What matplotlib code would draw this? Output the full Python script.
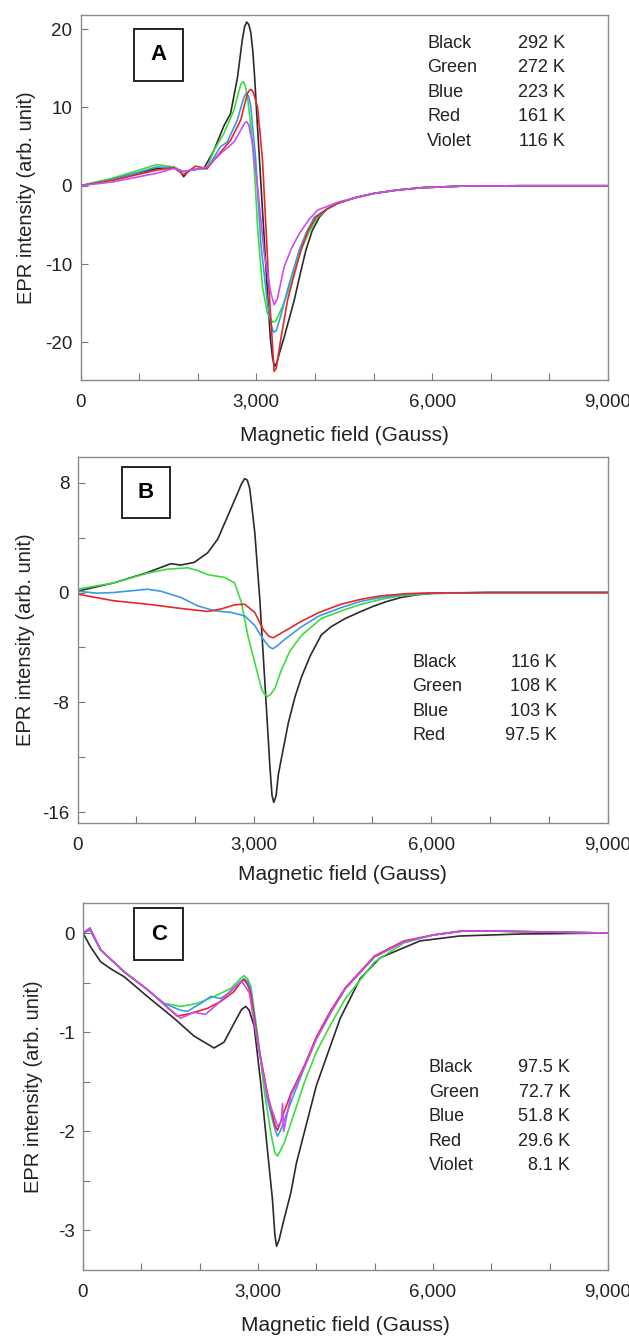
import matplotlib.pyplot as plt
from matplotlib.patches import Rectangle

plt.rcParams['font.family'] = ['Liberation Sans', 'DejaVu Sans']

# ---------- panel A ----------
a_x = {
    'Black': [0, 560, 1300, 1590, 1700, 1760, 1820, 1875, 2105, 2275, 2450, 2560, 2680, 2760, 2800, 2835,
              2870, 2905, 2940, 2970, 3020, 3105, 3190, 3240, 3275, 3310, 3350, 3400, 3476, 3647, 3750,
              3847, 3950, 4076, 4200, 4391, 4700, 5014, 5400, 5820, 6500, 7500, 9000],
    'Green': [0, 560, 1300, 1590, 1760, 1960, 2150, 2276, 2448, 2620, 2705, 2740, 2774, 2810, 2848,
              2900, 2934, 2980, 3020, 3105, 3190, 3276, 3330, 3447, 3590, 3762, 3900, 4048, 4200, 4391,
              4700, 5014, 5400, 5820, 6500, 7500, 9000],
    'Blue': [0, 560, 1300, 1590, 1760, 1960, 2160, 2390, 2505, 2676, 2760, 2800, 2831, 2870, 2905,
             2990, 3077, 3190, 3250, 3290, 3340, 3420, 3561, 3733, 3850, 3990, 4200, 4391, 4700, 5014,
             5400, 5820, 6500, 7500, 9000],
    'Red': [0, 560, 1300, 1590, 1760, 1960, 2160, 2390, 2560, 2734, 2848, 2885, 2917, 2955, 3020,
            3060, 3105, 3163, 3220, 3277, 3304, 3340, 3419, 3533, 3650, 3762, 3880, 4019, 4200, 4391,
            4700, 5014, 5400, 5820, 6500, 7500, 9000],
    'Violet': [0, 560, 1300, 1590, 1760, 1960, 2160, 2390, 2620, 2734, 2800, 2831, 2870, 2934, 2980,
               3020, 3134, 3248, 3304, 3360, 3476, 3600, 3733, 3900, 4048, 4391, 4700, 5014, 5400, 5820,
               6500, 7500, 9000],
}
a_y = {
    'Black': [0, 0.9, 2.2, 2.4, 1.9, 1.15, 1.7, 2.0, 2.2, 4.5, 7.7, 9.2, 13.9, 18.6, 20.3, 20.9,
              20.6, 19.6, 17.2, 14.0, 7.5, -3.1, -13.7, -19.5, -21.9, -23.1, -22.6, -21.2, -19.3, -14.6, -11.2,
              -8.2, -5.8, -4.0, -3.0, -2.25, -1.5, -0.97, -0.55, -0.25, -0.05, 0, 0],
    'Green': [0, 1.0, 2.7, 2.4, 1.8, 2.1, 2.2, 4.5, 6.7, 9.7, 12.2, 13.0, 13.3, 12.8, 11.4,
              8.0, 5.4, 0.5, -5.2, -12.9, -16.3, -17.4, -17.3, -15.4, -12.5, -8.2, -5.9, -4.0, -3.0, -2.2,
              -1.5, -0.97, -0.55, -0.25, -0.05, 0, 0],
    'Blue': [0, 0.8, 2.4, 2.3, 1.8, 2.1, 2.2, 5.0, 5.6, 8.4, 10.6, 11.5, 11.8, 11.4, 10.1,
             3.3, -7.4, -15.0, -17.6, -18.7, -18.5, -16.5, -12.5, -8.2, -6.0, -4.0, -3.0, -2.2, -1.5, -0.97,
             -0.55, -0.25, -0.05, 0, 0],
    'Red': [0, 0.7, 2.0, 2.3, 1.4, 2.5, 2.2, 4.3, 5.8, 8.4, 11.8, 12.2, 12.3, 11.8, 10.0,
            7.0, 3.3, -5.2, -13.7, -20.5, -23.7, -23.3, -19.5, -14.6, -11.2, -8.2, -5.8, -4.0, -3.0, -2.2,
            -1.5, -0.97, -0.55, -0.25, -0.05, 0, 0],
    'Violet': [0, 0.5, 1.6, 2.2, 1.8, 2.1, 2.4, 4.1, 5.6, 7.1, 8.0, 8.2, 7.8, 5.4, 2.5,
               -0.1, -8.6, -13.7, -15.2, -14.4, -10.3, -8.0, -6.1, -4.3, -3.1, -2.1, -1.5, -0.97, -0.55, -0.25,
               -0.05, 0, 0],
}
a_temps = ['292 K', '272 K', '223 K', '161 K', '116 K']

# ---------- panel B ----------
b_x = {
    'Black': [0, 613, 1183, 1582, 1753, 1981, 2209, 2380, 2551, 2722, 2780, 2836, 2880, 2921, 2960,
              3007, 3093, 3178, 3263, 3300, 3330, 3370, 3406, 3450, 3577, 3690, 3805, 3950, 4135, 4300,
              4540, 4800, 5020, 5250, 5490, 5750, 6000, 7000, 9000],
    'Green': [0, 613, 1183, 1525, 1867, 2038, 2209, 2494, 2665, 2779, 2893, 3007, 3121, 3160, 3220,
              3280, 3349, 3463, 3600, 3700, 3805, 4135, 4500, 4813, 5200, 5490, 6000, 7000, 9000],
    'Blue': [0, 328, 613, 1183, 1411, 1753, 2038, 2323, 2608, 2836, 3007, 3150, 3250, 3310, 3370,
             3520, 3797, 4100, 4474, 4800, 5152, 5600, 6000, 7000, 9000],
    'Red': [0, 613, 1183, 1753, 2209, 2437, 2665, 2836, 3007, 3150, 3250, 3320, 3400, 3520, 3797,
            4100, 4474, 4800, 5152, 5600, 6000, 7000, 9000],
}
b_y = {
    'Black': [0.1, 0.7, 1.45, 2.1, 2.0, 2.2, 2.9, 3.9, 5.6, 7.3, 7.9, 8.3, 8.2, 7.6, 6.2,
              4.4, -0.5, -6.5, -12.6, -14.8, -15.3, -14.8, -13.3, -12.3, -9.5, -7.6, -6.1, -4.6, -3.1, -2.5,
              -1.9, -1.4, -1.0, -0.65, -0.36, -0.17, -0.07, 0, 0],
    'Green': [0.24, 0.7, 1.4, 1.7, 1.8, 1.6, 1.3, 1.1, 0.7, -0.7, -3.2, -5.1, -7.0, -7.35, -7.6,
              -7.4, -7.0, -5.6, -4.3, -3.7, -3.1, -1.9, -1.3, -0.85, -0.45, -0.24, -0.05, 0, 0],
    'Blue': [0.1, -0.05, 0, 0.24, 0.1, -0.36, -0.97, -1.33, -1.45, -1.7, -2.4, -3.4, -3.95, -4.1, -3.95,
             -3.4, -2.5, -1.7, -1.1, -0.65, -0.36, -0.12, -0.05, 0, 0],
    'Red': [-0.12, -0.6, -0.85, -1.16, -1.38, -1.2, -0.9, -0.85, -1.45, -2.7, -3.2, -3.3, -3.1, -2.8, -2.1,
            -1.45, -0.85, -0.5, -0.24, -0.08, -0.03, 0, 0],
}
b_temps = ['116 K', '108 K', '103 K', '97.5 K']

# ---------- panel C ----------
c_x = {
    'Black': [0, 130, 302, 474, 703, 1103, 1561, 1904, 2247, 2419, 2590, 2720, 2790, 2850, 2934,
              3048, 3162, 3248, 3290, 3318, 3360, 3420, 3563, 3659, 4000, 4410, 4751, 5092, 5775, 6457,
              7500, 9000],
    'Green': [0, 120, 302, 703, 1103, 1389, 1675, 1961, 2247, 2533, 2700, 2762, 2820, 2877, 2991,
              3105, 3220, 3290, 3334, 3380, 3449, 3620, 3800, 4000, 4250, 4500, 5000, 5500, 6000, 6500,
              7000, 8000, 9000],
    'Blue': [0, 120, 302, 703, 1103, 1389, 1675, 1790, 2018, 2190, 2361, 2533, 2700, 2762, 2820,
             2877, 2991, 3162, 3290, 3334, 3380, 3449, 3620, 3800, 4000, 4250, 4500, 5000, 5500, 6000,
             6500, 7000, 8000, 9000],
    'Red': [0, 120, 302, 703, 1103, 1389, 1618, 1847, 2133, 2361, 2590, 2700, 2762, 2820, 2877,
            2991, 3162, 3290, 3334, 3380, 3420, 3563, 3800, 4000, 4250, 4500, 5000, 5500, 6000, 6500,
            7000, 8000, 9000],
    'Violet': [0, 120, 302, 703, 1103, 1389, 1675, 1900, 2100, 2300, 2500, 2650, 2705, 2760, 2850,
               2991, 3162, 3334, 3400, 3420, 3440, 3563, 3800, 4000, 4250, 4500, 5000, 5500, 6000, 6500,
               7000, 8000, 9000],
}
c_y = {
    'Black': [0, -0.14, -0.29, -0.36, -0.44, -0.64, -0.86, -1.04, -1.16, -1.10, -0.91, -0.77, -0.74, -0.78, -0.94,
              -1.52, -2.19, -2.69, -3.05, -3.16, -3.1, -2.95, -2.62, -2.32, -1.54, -0.86, -0.46, -0.25, -0.08, -0.03,
              -0.01, 0],
    'Green': [0, 0.03, -0.17, -0.39, -0.57, -0.71, -0.74, -0.71, -0.64, -0.56, -0.46, -0.43, -0.46, -0.54, -1.01,
              -1.58, -2.02, -2.22, -2.25, -2.2, -2.12, -1.82, -1.5, -1.2, -0.92, -0.66, -0.29, -0.1, -0.02, 0.02,
              0.02, 0.01, 0],
    'Blue': [0, 0.03, -0.17, -0.39, -0.57, -0.71, -0.78, -0.79, -0.71, -0.64, -0.66, -0.59, -0.49, -0.46, -0.49,
             -0.57, -1.08, -1.68, -1.98, -2.05, -2.0, -1.89, -1.62, -1.35, -1.07, -0.8, -0.56, -0.24, -0.09, -0.02,
             0.02, 0.02, 0.01, 0],
    'Red': [0, 0.05, -0.17, -0.39, -0.57, -0.72, -0.84, -0.81, -0.76, -0.69, -0.59, -0.5, -0.47, -0.52, -0.61,
            -1.08, -1.62, -1.94, -1.99, -1.92, -1.85, -1.62, -1.33, -1.05, -0.78, -0.55, -0.23, -0.08, -0.02, 0.02,
            0.02, 0.01, 0],
    'Violet': [0, 0.05, -0.17, -0.39, -0.57, -0.72, -0.86, -0.8, -0.82, -0.72, -0.6, -0.52, -0.49, -0.52, -0.6,
               -1.1, -1.65, -1.95, -1.9, -1.72, -2.0, -1.64, -1.35, -1.07, -0.8, -0.56, -0.24, -0.09, -0.02, 0.02,
               0.02, 0.01, 0],
}
c_temps = ['97.5 K', '72.7 K', '51.8 K', '29.6 K', '8.1 K']

colors = {'Black': '#2b2b2b', 'Green': '#3ddc3d', 'Blue': '#3a9ae6',
          'Red': '#e5262b', 'Violet': '#c84ff0'}

panels = [
    # x data, y data, letter, temps, axes px box, ylim, yticks, labelled yticks, letter box, legend, label coords
    (a_x, a_y, 'A', a_temps, [80.5, 15, 608, 380], (-24.8, 21.8), [-20, -10, 0, 10, 20], [-20, -10, 0, 10, 20],
     (0.102, 0.82, 0.195, 0.962), (0.657, 0.918, 0.922), (-0.151, -0.103)),
    (b_x, b_y, 'B', b_temps, [77.5, 456.7, 608, 823], (-16.8, 9.9), [-16, -12, -8, -4, 0, 4, 8], [-16, -8, 0, 8],
     (0.083, 0.832, 0.175, 0.971), (0.631, 0.904, 0.439), (-0.14, -0.098)),
    (c_x, c_y, 'C', c_temps, [83, 903.3, 608, 1270], (-3.4, 0.3), [-3, -2.5, -2, -1.5, -1, -0.5, 0], [-3, -2, -1, 0],
     (0.098, 0.845, 0.191, 0.986), (0.659, 0.928, 0.552), (-0.152, -0.094)),
]

W, H = 629, 1338
fig = plt.figure(figsize=(W / 100, H / 100), dpi=100)
txt = '#222222'

for xs, ys, letter, temps, px, ylim, yt, ylab, box, lg, lc in panels:
    l, t, r, b = px
    ax = fig.add_axes([l / W, 1 - b / H, (r - l) / W, (b - t) / H])
    for name in xs:
        ax.plot(xs[name], ys[name], color=colors[name], lw=1.2)
    ax.set_xlim(0, 9000)
    ax.set_ylim(*ylim)
    ax.set_xticks(range(0, 9001, 1000))
    ax.set_xticklabels(['{:,}'.format(v) if v % 3000 == 0 else '' for v in range(0, 9001, 1000)])
    ax.set_yticks(yt)
    ax.set_yticklabels([('{:g}'.format(v) if v in ylab else '') for v in yt])
    ax.tick_params(direction='in', length=5, width=0.8, color='#777777', labelsize=13.5,
                   labelcolor=txt)
    ax.tick_params(axis='x', pad=10)
    ax.tick_params(axis='y', pad=6)
    for s in ax.spines.values():
        s.set_color('#8a8a8a')
        s.set_linewidth(1.0)
    ax.set_xlabel('Magnetic field (Gauss)', fontsize=15, color=txt)
    ax.set_ylabel('EPR intensity (arb. unit)', fontsize=14.5, color=txt)
    ax.xaxis.set_label_coords(0.5, lc[0])
    ax.yaxis.set_label_coords(lc[1], 0.5)
    ax.xaxis.label.set_va('center')
    ax.yaxis.label.set_va('center')

    x0, y0, x1, y1 = box
    ax.add_patch(Rectangle((x0, y0), x1 - x0, y1 - y0, transform=ax.transAxes,
                           fill=False, edgecolor=txt, lw=1.4, zorder=5))
    ax.text((x0 + x1) / 2, (y0 + y1) / 2, letter, transform=ax.transAxes, ha='center', va='center',
            fontsize=16, fontweight='bold', color='black')

    lx, rx, ly = lg
    for i, name in enumerate(list(colors)[:len(temps)]):
        yy = ly - i * 0.067
        ax.text(lx, yy, name, transform=ax.transAxes, ha='left', va='center', fontsize=13, color=txt)
        ax.text(rx, yy, temps[i], transform=ax.transAxes, ha='right', va='center', fontsize=13, color=txt)

fig.savefig('out.png', dpi=100)
